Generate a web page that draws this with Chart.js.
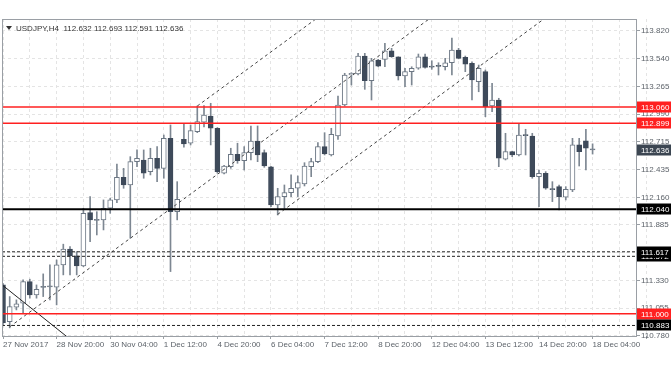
<!DOCTYPE html>
<html>
<head>
<meta charset="utf-8">
<script src="https://cdn.jsdelivr.net/npm/chart.js@4.4.1/dist/chart.umd.min.js"></script>
<style>
  html, body { margin: 0; padding: 0; background: #fff; }
  #wrap { width: 672px; height: 372px; }
</style>
</head>
<body>
<div id="wrap"><canvas id="chart" width="672" height="372"></canvas></div>
<script>
// Chart data (USDJPY H4, one value per bar)
const symbolTitle = 'USDJPY,H4  112.632 112.693 112.591 112.636';
const opens = [
  111.287, 110.922, 111.065, 111.105, 111.320, 111.188, 111.262, 111.268, 111.264, 111.486,
  111.643, 111.576, 111.476, 112.007, 111.930, 111.935, 112.051, 112.134, 112.360, 112.283,
  112.515, 112.532, 112.416, 112.549, 112.449, 112.748, 112.017, 112.738, 112.699, 112.814,
  112.908, 112.970, 112.848, 112.400, 112.465, 112.589, 112.525, 112.605, 112.721, 112.605,
  112.465, 112.084, 112.167, 112.207, 112.250, 112.293, 112.465, 112.515, 112.665, 112.582,
  112.771, 113.080, 113.379, 113.389, 113.568, 113.322, 113.528, 113.535, 113.621, 113.561,
  113.369, 113.412, 113.446, 113.561, 113.461, 113.470, 113.461, 113.501, 113.628, 113.555,
  113.495, 113.312, 113.412, 113.070, 113.130, 112.539, 112.615, 112.582, 112.780, 112.771,
  112.366, 112.400, 112.245, 112.266, 112.161, 112.233, 112.682, 112.724, 112.632
];
const highs = [
  111.300, 111.171, 111.138, 111.337, 111.344, 111.287, 111.397, 111.486, 111.536, 111.693,
  111.668, 111.619, 112.051, 112.167, 112.017, 112.134, 112.151, 112.492, 112.449, 112.565,
  112.632, 112.632, 112.649, 112.665, 112.781, 112.881, 112.316, 112.898, 112.881, 113.070,
  113.075, 113.097, 112.855, 112.480, 112.649, 112.699, 112.665, 112.871, 112.871, 112.632,
  112.470, 112.250, 112.283, 112.383, 112.373, 112.505, 112.549, 112.705, 112.804, 112.848,
  113.170, 113.396, 113.402, 113.595, 113.595, 113.545, 113.535, 113.695, 113.645, 113.561,
  113.446, 113.461, 113.588, 113.588, 113.521, 113.501, 113.545, 113.747, 113.645, 113.568,
  113.511, 113.478, 113.429, 113.296, 113.147, 112.798, 112.620, 112.898, 112.838, 112.798,
  112.432, 112.416, 112.316, 112.283, 112.266, 112.748, 112.748, 112.838, 112.693
];
const lows = [
  110.890, 110.859, 111.038, 111.008, 111.155, 111.155, 111.171, 111.138, 111.088, 111.387,
  111.387, 111.387, 111.469, 111.718, 111.785, 111.835, 112.001, 112.107, 112.250, 111.752,
  112.465, 112.350, 112.383, 112.316, 112.350, 111.420, 111.935, 112.659, 112.682, 112.804,
  112.861, 112.682, 112.400, 112.393, 112.449, 112.499, 112.432, 112.532, 112.515, 112.459,
  112.067, 111.984, 112.051, 112.167, 112.167, 112.273, 112.366, 112.505, 112.582, 112.572,
  112.738, 113.070, 113.279, 113.379, 113.236, 113.130, 113.461, 113.461, 113.555, 113.329,
  113.262, 113.279, 113.436, 113.446, 113.436, 113.379, 113.429, 113.379, 113.540, 113.412,
  113.130, 113.212, 112.963, 113.013, 112.465, 112.532, 112.565, 112.572, 112.582, 112.350,
  112.067, 112.240, 112.117, 112.034, 112.134, 112.216, 112.472, 112.432, 112.591
];
const closes = [
  110.909, 111.071, 111.098, 111.320, 111.188, 111.244, 111.270, 111.273, 111.486, 111.643,
  111.576, 111.476, 112.001, 111.935, 111.937, 112.051, 112.134, 112.360, 112.283, 112.515,
  112.549, 112.400, 112.549, 112.449, 112.748, 112.017, 112.141, 112.691, 112.824, 112.914,
  112.980, 112.848, 112.416, 112.472, 112.589, 112.525, 112.605, 112.721, 112.582, 112.472,
  112.084, 112.167, 112.207, 112.250, 112.306, 112.472, 112.515, 112.665, 112.592, 112.788,
  113.080, 113.379, 113.396, 113.568, 113.322, 113.521, 113.468, 113.621, 113.561, 113.369,
  113.412, 113.446, 113.561, 113.455, 113.458, 113.465, 113.501, 113.628, 113.545, 113.488,
  113.329, 113.446, 113.063, 113.130, 112.549, 112.615, 112.582, 112.781, 112.775, 112.366,
  112.400, 112.250, 112.237, 112.167, 112.240, 112.682, 112.615, 112.649, 112.636
];
// one label every 8 bars
const timeLabels = [
  '27 Nov 2017', '28 Nov 20:00', '30 Nov 04:00', '1 Dec 12:00', '4 Dec 20:00', '6 Dec 04:00',
  '7 Dec 12:00', '8 Dec 20:00', '12 Dec 04:00', '13 Dec 12:00', '14 Dec 20:00', '18 Dec 04:00'
];
const priceTicks = [113.820, 113.540, 113.265, 112.990, 112.715, 112.435, 112.160, 111.885, 111.610, 111.330, 111.055, 110.780];

// horizontal levels drawn on the chart
const levelPrices = [113.060, 112.899, 112.040, 111.572, 111.617, 111.000, 110.883];
const levelKinds  = ['red', 'red', 'thick', 'dash', 'dash', 'red', 'dash'];
// channel rays: start bar, start price; all rise at the same rate per bar
const channelStarts = [[1, 110.87], [29, 113.07], [41, 111.99]];
const channelRise = 0.049;
// falling trend line through two points (bar, price)
const fallLine = [[0, 111.28], [9, 110.80]];
const lastPrice = 112.636;

const bars = opens.map((o, i) => i);
const gridBars = [];
for (let k = 0; k <= timeLabels.length * 2; k++) gridBars.push(k * 4);

const BEAR = '#3e4a5a';
const BULL_EDGE = '#6c7784';
const WICK = '#7d8792';
const AXIS = '#9a9fa5';
const TXT = '#5d636a';
const RED = '#ff2020';

Chart.defaults.font.family = '"Liberation Sans", Arial, sans-serif';
Chart.defaults.font.size = 8;

function axisBox(ctx, yPix, text, bg) {
  ctx.fillStyle = bg;
  ctx.fillRect(637, Math.round(yPix) - 5.5, 34, 11);
  ctx.fillStyle = '#fff';
  ctx.textAlign = 'left';
  ctx.textBaseline = 'middle';
  ctx.fillText(text, 641, Math.round(yPix) + 0.5);
}

const overlay = {
  id: 'overlay',
  afterDatasetsDraw(chart) {
    const { ctx, chartArea: a, scales: { x, y } } = chart;
    ctx.save();
    ctx.beginPath();
    ctx.rect(a.left, a.top, a.right - a.left, a.bottom - a.top);
    ctx.clip();

    // channel rays
    ctx.lineWidth = 1;
    ctx.strokeStyle = '#444';
    ctx.setLineDash([3, 3]);
    channelStarts.forEach(([b, p]) => {
      const bEnd = 100;
      ctx.beginPath();
      ctx.moveTo(x.getPixelForValue(b), y.getPixelForValue(p));
      ctx.lineTo(x.getPixelForValue(bEnd), y.getPixelForValue(p + channelRise * (bEnd - b)));
      ctx.stroke();
    });

    // falling trend line
    const [[b1, p1], [b2, p2]] = fallLine;
    const k = (p2 - p1) / (b2 - b1);
    ctx.setLineDash([]);
    ctx.strokeStyle = '#222';
    ctx.beginPath();
    ctx.moveTo(x.getPixelForValue(-5), y.getPixelForValue(p1 + k * (-5 - b1)));
    ctx.lineTo(x.getPixelForValue(20), y.getPixelForValue(p1 + k * (20 - b1)));
    ctx.stroke();

    // horizontal levels
    const w = a.right - a.left;
    levelPrices.forEach((p, i) => {
      const kind = levelKinds[i];
      const py = y.getPixelForValue(p);
      ctx.setLineDash(kind === 'dash' ? [3, 2] : []);
      ctx.lineWidth = kind === 'thick' ? 2 : (kind === 'red' ? 1.5 : 1);
      ctx.strokeStyle = kind === 'red' ? RED : (kind === 'thick' ? '#000' : '#222');
      ctx.beginPath();
      ctx.moveTo(a.left, py);
      ctx.lineTo(a.right, py);
      ctx.stroke();
    });
    ctx.restore();
  },
  afterDraw(chart) {
    const { ctx, chartArea: a, scales: { y } } = chart;
    ctx.save();
    // frame
    ctx.strokeStyle = AXIS;
    ctx.lineWidth = 1;
    ctx.strokeRect(a.left + 0.5, a.top + 0.5, a.right - a.left, a.bottom - a.top);

    // level price boxes on the axis
    ctx.font = '8px "Liberation Sans", Arial, sans-serif';
    levelPrices.forEach((p, i) => {
      axisBox(ctx, y.getPixelForValue(p), p.toFixed(3), levelKinds[i] === 'red' ? RED : '#000');
    });
    axisBox(ctx, y.getPixelForValue(lastPrice), lastPrice.toFixed(3), '#3c4652');

    // symbol title
    ctx.fillStyle = '#333';
    ctx.beginPath();
    ctx.moveTo(6, 26); ctx.lineTo(12, 26); ctx.lineTo(9, 30); ctx.closePath();
    ctx.fill();
    ctx.textAlign = 'left';
    ctx.textBaseline = 'middle';
    ctx.fillText(symbolTitle, 16, 28.5);
    ctx.restore();
  }
};

new Chart(document.getElementById('chart'), {
  type: 'bar',
  data: {
    datasets: [
      {
        label: 'body',
        order: 0,
        data: bars.map(i => ({ x: i, y: [opens[i], closes[i]] })),
        barThickness: 5,
        minBarLength: 1,
        borderWidth: 1,
        borderSkipped: false,
        backgroundColor: c => {
          const i = c.dataIndex;
          if (i === undefined) return '#fff';
          if (Math.abs(closes[i] - opens[i]) < 0.012) return WICK;
          return closes[i] >= opens[i] ? '#fff' : BEAR;
        },
        borderColor: c => {
          const i = c.dataIndex;
          if (i === undefined) return BULL_EDGE;
          return closes[i] >= opens[i] ? BULL_EDGE : BEAR;
        }
      },
      {
        label: 'wick',
        order: 1,
        data: bars.map(i => ({ x: i, y: [lows[i], highs[i]] })),
        barThickness: 1,
        borderWidth: 0,
        backgroundColor: WICK
      }
    ]
  },
  options: {
    responsive: false,
    animation: false,
    events: [],
    layout: { padding: { top: 19, left: 2, right: 0, bottom: 0 } },
    plugins: { legend: { display: false }, tooltip: { enabled: false } },
    datasets: { bar: { grouped: false } },
    scales: {
      x: {
        type: 'linear',
        offset: false,
        min: -0.15,
        max: 94.48,
        grid: {
          offset: false,
          color: '#e4e4e4',
          tickLength: 3,
          tickColor: c => (c.tick && c.tick.value % 8 === 0) ? AXIS : 'rgba(0,0,0,0)'
        },
        border: { display: false, dash: [3, 3] },
        afterBuildTicks: s => { s.ticks = gridBars.map(v => ({ value: v })); },
        afterFit: s => { s.height = 36; },
        ticks: {
          autoSkip: false,
          maxRotation: 0,
          align: 'start',
          padding: 1,
          color: TXT,
          callback: v => (v % 8 === 0 && timeLabels[v / 8]) ? timeLabels[v / 8] : ''
        }
      },
      y: {
        position: 'right',
        min: 110.778,
        max: 113.937,
        grid: { color: '#e4e4e4', tickLength: 4, tickColor: AXIS },
        border: { display: false, dash: [3, 3] },
        afterBuildTicks: s => { s.ticks = priceTicks.map(v => ({ value: v })); },
        afterFit: s => { s.width = 36; },
        ticks: {
          autoSkip: false,
          padding: 1,
          color: TXT,
          callback: v => Number(v).toFixed(3)
        }
      }
    }
  },
  plugins: [overlay]
});
</script>
</body>
</html>
